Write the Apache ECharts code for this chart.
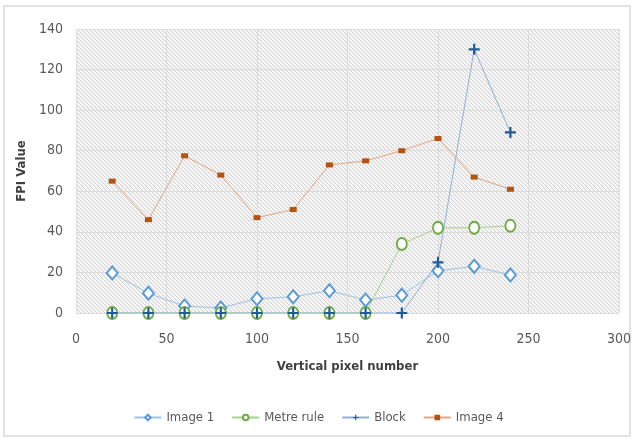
<!DOCTYPE html>
<html><head><meta charset="utf-8">
<script src="https://cdn.jsdelivr.net/npm/echarts@6/dist/echarts.min.js"></script>
<style>
html,body{margin:0;padding:0;background:#fff;}
#frame{position:absolute;left:3px;top:5px;width:628px;height:432px;border:2px solid #e2e2e2;box-sizing:border-box;}
#c{position:absolute;left:0;top:0;width:637px;height:447px;}
</style></head>
<body><div id="frame"></div><div id="c"></div>
<script>
const xValues = [20,40,60,80,100,120,140,160,180,200,220,240];
const image1 = [19.7,9.7,3.4,2.5,7,8,11,6.4,8.8,20.8,23,18.7];
const metreRule = [0,0,0,0,0,0,0,0,34,42,42,43];
const block = [0,0,0,0,0,0,0,0,0,25,130,89];
const image4 = [65,46,77.5,68,47,51,73,75,80,86,67,61];
const seriesNames = ['Image 1','Metre rule','Block','Image 4'];

function pair(vals){ return xValues.map((x,i)=>[x, vals[i]]); }

const pc = document.createElement('canvas');
pc.width = 4; pc.height = 4;
const g = pc.getContext('2d');
g.fillStyle = '#f5f5f5'; g.fillRect(0,0,4,4);
g.strokeStyle = '#d2d2d2'; g.lineWidth = 1;
g.beginPath(); g.moveTo(0,0); g.lineTo(4,4); g.stroke();
g.beginPath(); g.moveTo(-2,2); g.lineTo(2,6); g.stroke();
g.beginPath(); g.moveTo(2,-2); g.lineTo(6,2); g.stroke();

const font = "'Liberation Sans Narrow','DejaVu Sans Condensed',sans-serif";
const chart = echarts.init(document.getElementById('c'));
const plus = 'path://M4,0 L6,0 L6,4 L10,4 L10,6 L6,6 L6,10 L4,10 L4,6 L0,6 L0,4 L4,4 Z';
chart.setOption({
  animation:false,
  textStyle:{fontFamily:font},
  grid:{left:76,right:18,top:29,bottom:134,show:true,backgroundColor:{image:pc,repeat:'repeat'},borderWidth:0},
  legend:{bottom:18,left:'center',itemGap:17,itemWidth:27,itemHeight:7,
    textStyle:{fontFamily:font,fontSize:13,color:'#595959'},data:seriesNames},
  xAxis:{type:'value',min:0,max:300,interval:50,
    name:'Vertical pixel number',nameLocation:'middle',nameGap:47,
    nameTextStyle:{fontFamily:font,fontSize:13,fontWeight:'bold',color:'#404040'},
    axisLine:{show:false},axisTick:{show:false},
    axisLabel:{fontSize:14,color:'#595959',margin:19},
    splitLine:{lineStyle:{color:'#dcdcdc',width:1}}},
  yAxis:{type:'value',min:0,max:140,interval:20,
    name:'FPI Value',nameLocation:'middle',nameGap:41,
    nameTextStyle:{fontFamily:font,fontSize:13,fontWeight:'bold',color:'#404040'},
    axisLine:{show:false},axisTick:{show:false},
    axisLabel:{fontSize:14,color:'#595959',margin:13},
    splitLine:{lineStyle:{color:'#dcdcdc',width:1}}},
  series:[
    {name:'Image 1',type:'line',data:pair(image1),symbol:'emptyDiamond',symbolSize:[11,13],
     itemStyle:{color:'#5b9bd5',borderWidth:2},lineStyle:{color:'#9dc3e6',width:1}},
    {name:'Metre rule',type:'line',data:pair(metreRule),symbol:'emptyCircle',symbolSize:[10,12],
     itemStyle:{color:'#70ad47',borderWidth:2},lineStyle:{color:'#a9d18e',width:1}},
    {name:'Block',type:'line',data:pair(block),symbol:plus,symbolSize:11,
     itemStyle:{color:'#1f5c99'},lineStyle:{color:'#8fb0d6',width:1}},
    {name:'Image 4',type:'line',data:pair(image4),symbol:'rect',symbolSize:[7,5],
     itemStyle:{color:'#b4520f'},lineStyle:{color:'#e0a882',width:1}}
  ]
});
</script></body></html>
